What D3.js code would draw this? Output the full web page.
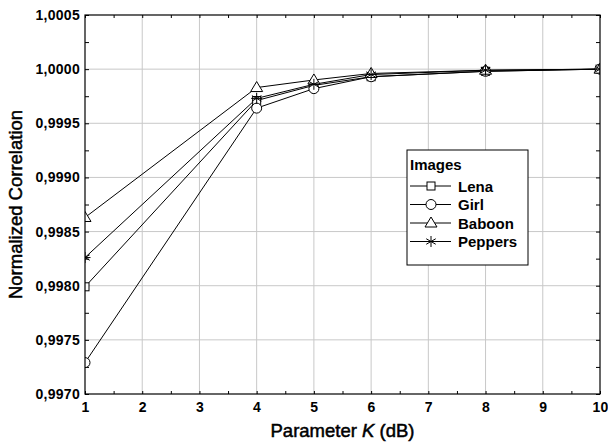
<!DOCTYPE html>
<html>
<head>
<meta charset="utf-8">
<script src="https://cdn.jsdelivr.net/npm/d3@7"></script>
<style>
body { margin: 0; background: #fff; }
text { font-family: "Liberation Sans", Arial, sans-serif; }
</style>
</head>
<body>
<div id="chart"></div>
<script>
var kValues = [1, 4, 5, 6, 8, 10];
var lena = [0.99799, 0.99971, 0.99985, 0.99993, 0.99998, 1.0000];
var girl = [0.99729, 0.99964, 0.99982, 0.99993, 0.99998, 1.0000];
var baboon = [0.99863, 0.99983, 0.99990, 0.99996, 0.99999, 1.0000];
var peppers = [0.99826, 0.99973, 0.99986, 0.99995, 0.99999, 1.0000];
var xTicks = [1, 2, 3, 4, 5, 6, 7, 8, 9, 10];
var yTicks = [0.9970, 0.9975, 0.9980, 0.9985, 0.9990, 0.9995, 1.0000, 1.0005];

var series = [
    {name: 'Lena', values: lena, marker: 'square'},
    {name: 'Girl', values: girl, marker: 'circle'},
    {name: 'Baboon', values: baboon, marker: 'triangle'},
    {name: 'Peppers', values: peppers, marker: 'star'}
];

var width = 608, height = 448;
var margin = {left: 85, right: 8, top: 15, bottom: 54};

var svg = d3.select('#chart').append('svg')
    .attr('width', width)
    .attr('height', height);

var x = d3.scaleLinear().domain([1, 10]).range([margin.left, width - margin.right]);
var y = d3.scaleLinear().domain([0.9970, 1.0005]).range([height - margin.bottom, margin.top]);

var x0 = x.range()[0], x1 = x.range()[1];
var y0 = y.range()[0], y1 = y.range()[1];

svg.append('defs').append('clipPath').attr('id', 'clip')
    .append('rect').attr('x', x0).attr('y', y1)
    .attr('width', x1 - x0).attr('height', y0 - y1);

// grid
svg.append('g').selectAll('line')
    .data(xTicks.slice(1, -1))
    .enter().append('line')
    .attr('x1', function (d) { return x(d); })
    .attr('x2', function (d) { return x(d); })
    .attr('y1', y0).attr('y2', y1)
    .style('stroke', '#c8c8c8').style('stroke-width', 1);
svg.append('g').selectAll('line')
    .data(yTicks.slice(1, -1))
    .enter().append('line')
    .attr('y1', function (d) { return y(d); })
    .attr('y2', function (d) { return y(d); })
    .attr('x1', x0).attr('x2', x1)
    .style('stroke', '#c8c8c8').style('stroke-width', 1);

// axes: small ticks pointing inward, labels in separate groups
var fmt = function (d) { return d3.format('.4f')(d).replace('.', ','); };
var xMinor = d3.range(1, 10.01, 0.5);
var yMinor = d3.range(0, 15).map(function (i) { return 0.9970 + i * 0.00025; });

function inTicks(axis, vals, size) {
    return axis.tickValues(vals).tickSize(size).tickFormat('');
}

svg.append('g').attr('transform', 'translate(0,' + y0 + ')').call(inTicks(d3.axisTop(x), xMinor, 3));
svg.append('g').attr('transform', 'translate(0,' + y1 + ')').call(inTicks(d3.axisBottom(x), xMinor, 3));
svg.append('g').attr('transform', 'translate(' + x0 + ',0)').call(inTicks(d3.axisRight(y), yMinor, 4));
svg.append('g').attr('transform', 'translate(' + x1 + ',0)').call(inTicks(d3.axisLeft(y), yMinor, 4));

var gxl = svg.append('g').attr('class', 'lbl').attr('transform', 'translate(0,' + y0 + ')')
    .call(d3.axisBottom(x).tickValues(xTicks).tickSize(0).tickPadding(8).tickFormat(d3.format('d')));
var gyl = svg.append('g').attr('class', 'lbl').attr('transform', 'translate(' + x0 + ',0)')
    .call(d3.axisLeft(y).tickValues(yTicks).tickSize(0).tickPadding(5).tickFormat(fmt));

svg.selectAll('.domain').remove();
svg.selectAll('.tick line').style('stroke', '#000');
svg.selectAll('.lbl .tick text')
    .style('font-size', '14px').style('font-weight', 'bold').style('letter-spacing', '0.3px')
    .style('font-family', '"Liberation Sans", Arial, sans-serif').attr('fill', '#000');

// axis titles
svg.append('text')
    .attr('x', (x0 + x1) / 2).attr('y', 437)
    .attr('text-anchor', 'middle')
    .style('font-size', '18.5px').style('stroke', '#000').style('stroke-width', 0.5)
    .html('Parameter <tspan font-style="italic">K</tspan> (dB)');
svg.append('text')
    .attr('transform', 'translate(22,' + ((y0 + y1) / 2) + ') rotate(-90)')
    .attr('text-anchor', 'middle')
    .style('font-size', '18.5px').style('stroke', '#000').style('stroke-width', 0.5)
    .text('Normalized Correlation');

// markers
function drawMarker(g, type, cx, cy) {
    if (type === 'square') {
        g.append('rect').attr('x', cx - 4).attr('y', cy - 4).attr('width', 8).attr('height', 8)
            .style('fill', '#fff').style('stroke', '#000');
    } else if (type === 'circle') {
        g.append('circle').attr('cx', cx).attr('cy', cy).attr('r', 5)
            .style('fill', '#fff').style('stroke', '#000');
    } else if (type === 'triangle') {
        g.append('path').attr('d', 'M' + cx + ',' + (cy - 6) + 'L' + (cx + 6) + ',' + (cy + 4) + 'L' + (cx - 6) + ',' + (cy + 4) + 'Z')
            .style('fill', '#fff').style('stroke', '#000');
    } else {
        var r = 5.5;
        var p = '';
        [0, 60, 120].forEach(function (a) {
            var t = a * Math.PI / 180;
            p += 'M' + (cx - r * Math.sin(t)) + ',' + (cy - r * Math.cos(t)) + 'L' + (cx + r * Math.sin(t)) + ',' + (cy + r * Math.cos(t));
        });
        p += 'M' + (cx - r) + ',' + cy + 'L' + (cx + r) + ',' + cy;
        g.append('path').attr('d', p).style('stroke', '#000').style('fill', 'none');
    }
}

var line = d3.line()
    .x(function (d, i) { return x(kValues[i]); })
    .y(function (d) { return y(d); });

var plot = svg.append('g').attr('clip-path', 'url(#clip)');
series.forEach(function (s) {
    plot.append('path').datum(s.values)
        .attr('d', line)
        .style('fill', 'none').style('stroke', '#000').style('stroke-width', 1);
});
series.forEach(function (s) {
    var mg = plot.append('g');
    s.values.forEach(function (v, i) {
        drawMarker(mg, s.marker, x(kValues[i]), y(v));
    });
});

svg.append('rect')
    .attr('x', x0).attr('y', y1)
    .attr('width', x1 - x0).attr('height', y0 - y1)
    .style('fill', 'none').style('stroke', '#000').style('stroke-width', 1.2);

// legend
var lg = svg.append('g').attr('transform', 'translate(407,150)');
lg.append('rect').attr('width', 121).attr('height', 115)
    .style('fill', '#fff').style('stroke', '#000');
lg.append('text').attr('x', 3).attr('y', 20)
    .style('font-size', '15px').style('font-weight', 'bold').text('Images');
series.forEach(function (s, i) {
    var ly = 36 + i * 18.5;
    lg.append('line').attr('x1', 3).attr('x2', 44).attr('y1', ly).attr('y2', ly)
        .style('stroke', '#000');
    drawMarker(lg, s.marker, 24, ly);
    lg.append('text').attr('x', 51).attr('y', ly + 5.5)
        .style('font-size', '15px').style('font-weight', 'bold').text(s.name);
});
</script>
</body>
</html>
